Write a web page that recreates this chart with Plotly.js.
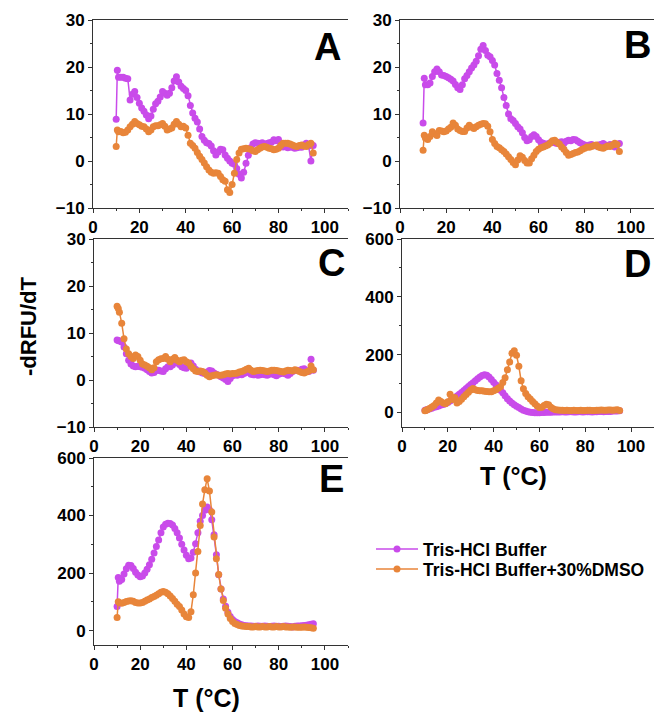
<!DOCTYPE html>
<html>
<head>
<meta charset="utf-8">
<script src="https://cdn.plot.ly/plotly-3.0.1.min.js"></script>
<style>html,body{margin:0;padding:0;background:#fff;}</style>
</head>
<body>
<div id="chart" style="width:654px;height:713px;"></div>
<script>
// Temperature grid (°C)
const T = [10,10.5,11,12,13,14,15,16,17,18,
  19,20,21,22,23,24,25,26,27,28,
  29,30,31,32,33,34,35,36,37,38,
  39,40,41,42,43,44,45,46,47,48,
  49,50,51,52,53,54,55,56,57,58,
  59,60,61,62,63,64,65,66,67,68,
  69,70,71,72,73,74,75,76,77,78,
  79,80,81,82,83,84,85,86,87,88,
  89,90,91,92,93,94,95];

const seriesNames = ['Tris-HCl Buffer', 'Tris-HCl Buffer+30%DMSO'];
const panelLetters = ['A','B','C','D','E'];

// Panel A
const A_tris = [8.9,19.3,17.8,17.8,17.8,17.6,17.5,13.0,14.2,14.8,
  13.5,12.3,11.3,10.6,9.8,9.0,9.6,11.0,12.2,12.7,
  13.6,14.8,14.4,14.0,14.4,15.6,17.0,17.9,16.8,15.9,
  15.4,15.0,13.9,11.8,10.2,9.1,8.3,6.8,5.2,4.4,
  3.9,3.7,3.2,2.2,1.3,1.9,2.5,2.4,1.3,0.6,
  0.0,-0.5,-0.7,-1.6,-2.8,-3.6,-2.4,-0.5,1.2,2.8,
  3.6,3.9,3.8,3.7,3.9,3.5,3.7,3.9,4.0,4.5,
  4.3,4.6,3.6,3.0,3.2,2.8,3.0,2.9,2.7,2.8,
  3.0,2.9,3.4,3.8,3.2,0.0,3.3];
const A_dmso = [3.1,6.6,6.2,6.3,6.0,6.1,6.6,7.3,7.8,8.4,
  8.0,7.7,7.4,7.3,6.8,6.2,6.6,7.3,7.5,7.5,
  7.7,8.0,7.4,6.6,6.8,7.0,7.8,8.4,7.8,7.3,
  7.4,7.0,5.5,3.8,3.3,2.7,1.8,1.0,0.3,-0.4,
  -1.2,-1.9,-2.4,-2.6,-2.5,-2.6,-3.3,-4.0,-4.3,-6.1,
  -6.7,-5.0,-2.6,0.3,1.7,2.5,2.6,2.7,2.6,2.5,
  2.2,2.0,2.4,2.7,3.0,3.1,2.9,2.7,2.6,2.4,
  2.5,2.7,3.3,3.8,3.8,3.8,3.6,3.4,3.2,3.1,
  3.3,3.4,3.2,3.1,3.5,3.8,1.7];

// Panel B
const B_tris = [8.1,17.6,16.2,16.2,16.6,18.0,19.0,19.6,19.0,18.3,
  18.2,18.0,17.7,17.4,17.0,16.3,15.6,15.2,16.2,17.5,
  18.2,19.0,19.8,20.4,21.2,22.4,23.8,24.6,23.5,22.5,
  22.2,21.4,20.4,18.6,17.2,15.6,13.5,11.8,10.0,9.0,
  8.6,8.0,7.3,6.8,6.0,5.0,4.3,4.5,5.2,5.6,
  5.2,4.5,4.0,3.8,3.6,3.6,3.9,4.1,3.9,3.7,
  4.0,4.1,3.8,4.2,4.4,4.3,4.6,4.5,4.2,3.9,
  3.6,3.4,3.3,3.4,3.5,3.3,3.2,3.4,3.5,3.7,
  3.4,3.2,3.5,3.3,3.0,3.4,3.7];
const B_dmso = [2.3,5.5,4.9,4.6,5.2,6.2,5.8,5.4,6.5,6.4,
  6.2,6.4,6.8,7.2,8.1,7.6,6.8,6.5,6.3,6.3,
  7.0,7.6,7.2,6.9,7.3,7.6,7.8,8.0,7.9,7.4,
  6.2,4.6,3.7,3.1,2.8,2.4,2.0,1.5,0.9,0.3,
  -0.3,-0.8,0.2,1.1,0.8,0.1,-0.4,-0.4,0.5,1.2,
  2.0,2.5,2.8,3.0,3.2,3.4,3.8,4.3,4.4,4.0,
  3.6,3.0,2.5,1.8,1.2,1.4,1.6,1.8,1.9,2.2,
  2.5,2.7,3.0,2.9,3.1,3.3,3.4,3.0,2.8,2.7,
  3.0,3.2,3.1,3.4,3.8,3.5,2.0];

// Panel C
const C_tris = [8.5,8.4,8.3,8.1,7.0,5.6,4.2,3.4,3.0,2.8,
  2.9,2.8,2.7,2.5,2.2,1.8,1.5,1.6,2.0,2.1,
  1.9,1.8,2.4,2.8,2.8,3.2,3.7,3.8,3.3,2.8,
  2.6,2.5,3.0,3.6,3.0,2.3,1.9,1.7,1.5,1.4,
  1.7,2.0,1.9,1.5,1.2,1.0,0.7,0.4,0.1,-0.3,
  0.3,0.9,1.1,1.0,1.2,1.1,1.4,1.7,1.6,1.2,
  1.1,1.2,1.0,1.1,1.3,1.1,1.0,1.2,1.4,1.1,
  0.9,1.2,1.4,1.5,1.3,1.0,1.4,1.8,2.0,2.1,
  2.0,2.3,2.4,2.0,1.8,4.4,2.1];
const C_dmso = [15.7,15.2,14.4,12.1,8.8,6.6,5.6,5.0,4.6,5.3,
  5.0,4.2,3.4,3.2,2.9,2.6,2.2,2.6,3.9,4.3,
  4.5,4.6,5.0,4.4,3.9,4.4,4.8,4.2,3.9,4.2,
  4.3,3.9,3.6,2.9,2.4,1.9,1.8,1.9,1.8,1.5,
  1.0,0.7,0.9,1.0,1.1,1.0,1.0,1.1,1.3,1.4,
  1.3,1.4,1.4,1.5,1.7,1.8,2.0,2.3,2.5,2.1,
  1.8,1.9,2.0,2.1,2.0,1.9,1.8,1.9,2.1,2.1,
  2.0,1.9,1.8,1.7,1.9,2.1,2.0,1.9,2.2,2.0,
  1.8,1.6,1.5,1.7,1.9,3.0,2.2];

// Panel D
const D_tris = [8,9,10,12,15,18,20,23,26,28,
  31,35,40,45,50,57,63,69,76,83,
  90,97,103,110,117,123,128,131,129,123,
  114,105,96,86,77,68,58,48,40,33,
  27,22,17,12,8,5,3,1,0,-1,
  -1,-1,0,0,1,1,1,2,2,2,
  2,3,2,2,3,3,2,2,3,3,
  2,3,3,3,2,3,3,4,4,3,
  4,4,4,5,5,5,6];
const D_dmso = [6,8,10,14,19,24,33,43,38,33,
  30,37,63,45,52,33,38,46,55,62,
  70,78,83,79,76,75,75,74,73,72,
  72,75,79,84,89,104,120,148,175,205,
  214,198,160,110,82,66,55,47,38,30,
  23,17,18,24,29,27,18,13,10,9,
  8,8,7,8,7,7,8,7,7,8,
  7,7,8,8,7,7,8,8,9,8,
  8,9,9,8,9,10,7];

// Panel E
const E_tris = [84,185,172,178,197,215,227,226,216,203,
  193,187,190,200,213,229,248,270,292,315,
  340,360,370,373,372,367,355,340,322,300,
  280,262,250,252,272,302,340,380,400,418,
  430,420,385,333,264,194,145,110,85,64,
  49,39,32,27,23,20,18,17,16,16,
  15,15,16,15,15,16,15,14,15,16,
  15,15,14,15,16,15,14,13,15,16,
  16,17,18,19,20,22,24];
const E_dmso = [46,100,97,95,98,101,103,104,102,98,
  96,96,98,102,106,110,115,119,123,128,
  133,136,133,128,120,112,102,92,84,72,
  58,48,46,66,125,200,275,365,440,490,
  528,485,412,325,250,195,145,105,78,58,
  42,32,25,21,18,16,15,14,14,13,
  13,14,13,13,14,13,13,14,13,13,
  14,13,13,14,13,13,12,13,13,12,
  12,12,13,12,11,10,8];

const COL_TRIS = '#C94BEA';
const COL_DMSO = '#E8853A';

const panels = [
  {tris: A_tris, dmso: A_dmso, xa: 'x',  ya: 'y'},
  {tris: B_tris, dmso: B_dmso, xa: 'x2', ya: 'y2'},
  {tris: C_tris, dmso: C_dmso, xa: 'x3', ya: 'y3'},
  {tris: D_tris, dmso: D_dmso, xa: 'x4', ya: 'y4'},
  {tris: E_tris, dmso: E_dmso, xa: 'x5', ya: 'y5'}
];

const traces = [];
panels.forEach((p, i) => {
  traces.push({x: T, y: p.tris, xaxis: p.xa, yaxis: p.ya, type: 'scatter', mode: 'lines+markers',
    name: seriesNames[0], legend: 'legend', showlegend: i === 0,
    line: {color: COL_TRIS, width: 1.5}, marker: {color: COL_TRIS, size: 7}});
});
panels.forEach((p, i) => {
  traces.push({x: T, y: p.dmso, xaxis: p.xa, yaxis: p.ya, type: 'scatter', mode: 'lines+markers',
    name: seriesNames[1], legend: 'legend2', showlegend: i === 0,
    line: {color: COL_DMSO, width: 1.5}, marker: {color: COL_DMSO, size: 7}});
});

const W = 654, H = 713;
const px = v => v / W;
const py = v => 1 - v / H;

function xAxis(l, r, anchor) {
  return {domain: [px(l), px(r)], anchor: anchor, range: [0, 110], tick0: 0, dtick: 20,
    showline: true, mirror: true, linecolor: '#333', linewidth: 1,
    ticks: 'outside', ticklen: 4, tickcolor: '#333', showgrid: false, zeroline: false,
    tickfont: {size: 17, weight: 'bold', color: '#000'},
    minor: {ticks: 'outside', ticklen: 2, dtick: 10, tickcolor: '#333', showgrid: false}};
}
function yAxis(top, bottom, anchor, rng, dt) {
  return {domain: [py(bottom), py(top)], anchor: anchor, range: rng, tick0: 0, dtick: dt,
    showline: true, linecolor: '#333', linewidth: 1,
    ticks: 'outside', ticklen: 4, tickcolor: '#333', showgrid: false, zeroline: false,
    tickfont: {size: 17, weight: 'bold', color: '#000'},
    minor: {ticks: 'outside', ticklen: 2, dtick: dt / 2, tickcolor: '#333', showgrid: false}};
}

const letterPos = [[328, 47], [637, 45], [331, 263], [637, 264], [331, 479]];
const annotations = panelLetters.map((L, i) => ({
  text: L, xref: 'paper', yref: 'paper', x: px(letterPos[i][0]), y: py(letterPos[i][1]),
  xanchor: 'center', yanchor: 'middle', showarrow: false,
  font: {size: 38, weight: 'bold', color: '#000'}
}));
annotations.push({text: '-dRFU/dT', xref: 'paper', yref: 'paper', x: px(29), y: py(326),
  textangle: -90, xanchor: 'center', yanchor: 'middle', showarrow: false,
  font: {size: 22, weight: 'bold', color: '#000'}});
annotations.push({text: 'T (°C)', xref: 'paper', yref: 'paper', x: px(513), y: py(476),
  xanchor: 'center', yanchor: 'middle', showarrow: false,
  font: {size: 25, weight: 'bold', color: '#000'}});
annotations.push({text: 'T (°C)', xref: 'paper', yref: 'paper', x: px(206), y: py(698),
  xanchor: 'center', yanchor: 'middle', showarrow: false,
  font: {size: 25, weight: 'bold', color: '#000'}});

const legendStyle = (top) => ({x: px(371), y: py(top), xanchor: 'left', yanchor: 'top',
  bgcolor: 'rgba(0,0,0,0)', font: {size: 17.5, weight: 'bold', color: '#000'},
  itemwidth: 42});

const layout = {
  width: W, height: H, margin: {l: 0, r: 0, t: 0, b: 0},
  paper_bgcolor: '#fff', plot_bgcolor: '#fff',
  font: {family: 'Liberation Sans, Arial, sans-serif', color: '#000'},
  showlegend: true,
  legend: legendStyle(531),
  legend2: legendStyle(551),
  xaxis: xAxis(93, 348, 'y'),   yaxis: yAxis(20, 208, 'x', [-10, 30], 10),
  xaxis2: xAxis(400, 654, 'y2'), yaxis2: yAxis(20, 208, 'x2', [-10, 30], 10),
  xaxis3: xAxis(94, 348, 'y3'),  yaxis3: yAxis(239, 427, 'x3', [-10, 30], 10),
  xaxis4: xAxis(402, 654, 'y4'), yaxis4: yAxis(239, 427, 'x4', [-50, 600], 200),
  xaxis5: xAxis(94, 348, 'y5'),  yaxis5: yAxis(458, 645, 'x5', [-50, 600], 200),
  annotations: annotations
};

Plotly.newPlot('chart', traces, layout, {displayModeBar: false, staticPlot: true});
</script>
</body>
</html>
